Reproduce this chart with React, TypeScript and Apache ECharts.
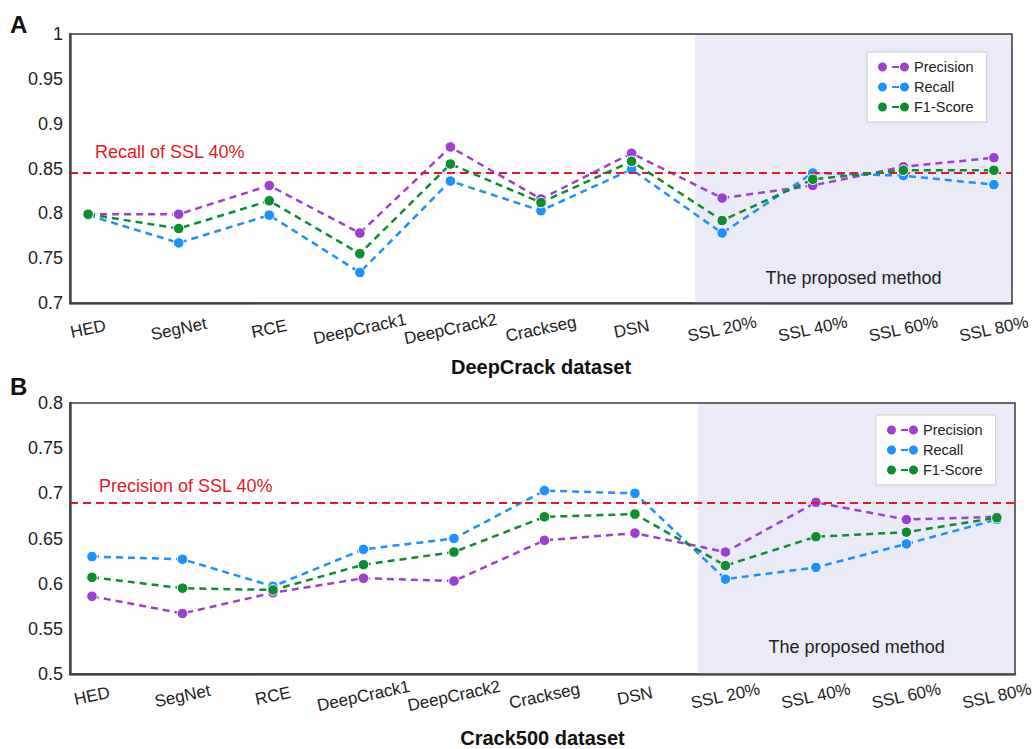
import React, { useEffect, useRef } from "react";
import * as echarts from "echarts";

// ---------- data ----------
const categories = ["HED", "SegNet", "RCE", "DeepCrack1", "DeepCrack2", "Crackseg", "DSN", "SSL 20%", "SSL 40%", "SSL 60%", "SSL 80%"];

const deepPrecision = [0.799, 0.799, 0.831, 0.778, 0.874, 0.816, 0.867, 0.817, 0.831, 0.852, 0.862];
const deepRecall = [0.798, 0.767, 0.798, 0.734, 0.836, 0.803, 0.849, 0.778, 0.845, 0.842, 0.832];
const deepF1 = [0.799, 0.783, 0.814, 0.755, 0.855, 0.812, 0.858, 0.792, 0.838, 0.848, 0.848];
const deepReference = 0.845;

const crackPrecision = [0.586, 0.567, 0.590, 0.606, 0.603, 0.648, 0.656, 0.635, 0.690, 0.671, 0.674];
const crackRecall = [0.630, 0.627, 0.597, 0.638, 0.650, 0.703, 0.700, 0.605, 0.618, 0.644, 0.671];
const crackF1 = [0.607, 0.595, 0.593, 0.621, 0.635, 0.674, 0.677, 0.620, 0.652, 0.657, 0.673];
const crackReference = 0.69;

const seriesNames = ["Precision", "Recall", "F1-Score"];
const proposedStart = 6.7; // start of the shaded "proposed method" region (in category units)

// ---------- styles ----------
const FONT = "'Liberation Sans', Arial, Helvetica, sans-serif";
const COLORS = ["#9b40cf", "#1e90ff", "#0f8c2f"];
const RED = "#e5181e";
const SHADE = "#ebebf8";
const LEGEND_ICON =
  "path://M0,4.5A4.5,4.5,0,1,0,9,4.5A4.5,4.5,0,1,0,0,4.5ZM14,3.5L21,3.5L21,5.5L14,5.5ZM22,4.5A4.5,4.5,0,1,0,31,4.5A4.5,4.5,0,1,0,22,4.5Z";

const GRID_A = { left: 70, top: 34, width: 942, height: 269 };
const GRID_B = { left: 70, top: 403, width: 945, height: 271 };

function pairs(values: number[]) {
  return categories.map((_, i) => [i, values[i]]);
}

function makeSeries(gridIndex: number, sets: number[][], reference: number, xMax: number) {
  return sets.map((vals, k) => ({
    type: "line",
    name: seriesNames[k],
    xAxisIndex: gridIndex,
    yAxisIndex: gridIndex,
    data: pairs(vals),
    symbol: "circle",
    symbolSize: 10.5,
    z: 3 + k,
    itemStyle: { color: COLORS[k], borderColor: "#fff", borderWidth: 1 },
    lineStyle: { color: COLORS[k], width: 2.5, type: [7, 5] },
    emphasis: { disabled: true },
    markArea:
      k === 0
        ? {
            silent: true,
            itemStyle: { color: SHADE },
            label: {
              show: true,
              position: "insideBottom",
              distance: gridIndex === 0 ? 16 : 18,
              color: "#222",
              fontSize: 18,
              fontFamily: FONT,
            },
            data: [[{ xAxis: proposedStart, name: "The proposed method" }, { xAxis: xMax }]],
          }
        : undefined,
    markLine:
      k === 0
        ? {
            silent: true,
            symbol: "none",
            precision: 4,
            label: { show: false },
            lineStyle: { color: RED, width: 2, type: [8, 5] },
            data: [{ yAxis: reference }],
          }
        : undefined,
  }));
}

function xAxis(gridIndex: number, min: number, max: number, name: string, margin: number) {
  return {
    type: "value",
    gridIndex,
    min,
    max,
    name,
    nameLocation: "middle",
    nameGap: 54,
    nameMoveOverlap: false,
    nameTextStyle: { fontSize: 20, fontWeight: "bold", color: "#111", fontFamily: FONT },
    axisLine: { show: true, onZero: false, lineStyle: { color: "#666", width: 2.5 } },
    axisTick: { show: false },
    splitLine: { show: false },
    axisLabel: {
      customValues: categories.map((_, i) => i),
      formatter: (v: number) => categories[Math.round(v)] ?? "",
      rotate: 12,
      align: "center",
      verticalAlign: "middle",
      margin,
      fontSize: 17,
      color: "#222",
      fontFamily: FONT,
    },
  };
}

function yAxis(gridIndex: number, min: number, max: number) {
  return {
    type: "value",
    gridIndex,
    min,
    max,
    interval: 0.05,
    axisLine: { show: true, onZero: false, lineStyle: { color: "#555", width: 2.5 } },
    axisTick: { show: false },
    splitLine: { show: false },
    axisLabel: { fontSize: 18, color: "#222", margin: 7, fontFamily: FONT },
  };
}

function legend(left: number, top: number) {
  return {
    left,
    top,
    orient: "vertical",
    data: seriesNames,
    icon: LEGEND_ICON,
    itemWidth: 31,
    itemHeight: 9,
    itemGap: 4,
    selectedMode: false,
    backgroundColor: "#fff",
    borderColor: "#ccc",
    borderWidth: 1,
    padding: [7, 13, 7, 11],
    itemStyle: { borderWidth: 0 },
    textStyle: { fontSize: 14.5, lineHeight: 16, color: "#222", fontFamily: FONT },
  };
}

function frame(g: { left: number; top: number; width: number; height: number }) {
  return {
    type: "rect",
    z: 100,
    silent: true,
    shape: { x: g.left, y: g.top, width: g.width, height: g.height },
    style: { fill: "none", stroke: "#3a3a3a", lineWidth: 1.5 },
  };
}

export default function App() {
  const ref = useRef<HTMLDivElement>(null);

  useEffect(() => {
    if (!ref.current) return;
    const chart = echarts.init(ref.current, undefined, { renderer: "svg" });
    const xMaxA = 10.2;
    const xMaxB = 10.2;
    chart.setOption({
      animation: false,
      backgroundColor: "#fff",
      textStyle: { fontFamily: FONT },
      grid: [
        { ...GRID_A, outerBoundsMode: "none", show: false },
        { ...GRID_B, outerBoundsMode: "none", show: false },
      ],
      xAxis: [
        xAxis(0, -0.2, xMaxA, "DeepCrack dataset", 26),
        xAxis(1, -0.243, xMaxB, "Crack500 dataset", 22),
      ],
      yAxis: [yAxis(0, 0.7, 1), yAxis(1, 0.5, 0.8)],
      legend: [legend(867, 52), legend(876, 415)],
      series: [
        ...makeSeries(0, [deepPrecision, deepRecall, deepF1], deepReference, xMaxA),
        ...makeSeries(1, [crackPrecision, crackRecall, crackF1], crackReference, xMaxB),
      ],
      graphic: [
        frame(GRID_A),
        frame(GRID_B),
        {
          type: "text",
          left: 10,
          top: 12,
          style: { text: "A", fontSize: 24, fontWeight: "bold", fill: "#111", fontFamily: FONT },
        },
        {
          type: "text",
          left: 10,
          top: 374,
          style: { text: "B", fontSize: 24, fontWeight: "bold", fill: "#111", fontFamily: FONT },
        },
        {
          type: "text",
          x: 95,
          y: 152,
          style: { text: "Recall of SSL 40%", fontSize: 18, fill: RED, fontFamily: FONT, verticalAlign: "middle" },
        },
        {
          type: "text",
          x: 99,
          y: 486,
          style: { text: "Precision of SSL 40%", fontSize: 18, fill: RED, fontFamily: FONT, verticalAlign: "middle" },
        },
      ],
    });
    return () => chart.dispose();
  }, []);

  return (
    <div
      ref={ref}
      style={{ position: "absolute", left: 0, top: 0, width: 1035, height: 749, background: "#fff" }}
    />
  );
}
